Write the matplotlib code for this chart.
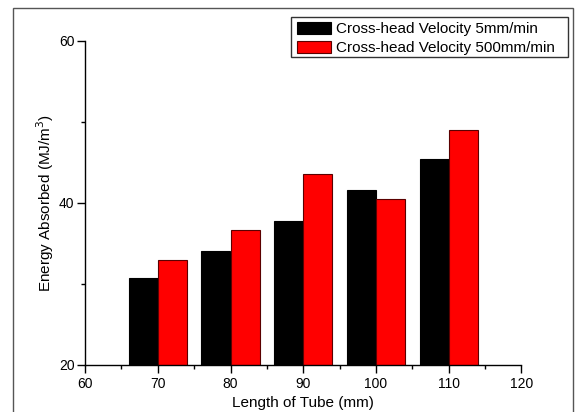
import numpy as np
import matplotlib
matplotlib.use("Agg")
import matplotlib.pyplot as plt
from matplotlib.patches import Rectangle
from matplotlib.ticker import MultipleLocator

plt.rcParams["font.family"] = ["Liberation Sans", "DejaVu Sans"]

# tube lengths (mm) and energy absorbed (MJ/m^3)
lengths = np.array([70, 80, 90, 100, 110])
energy_5 = [30.7, 34.1, 37.7, 41.6, 45.4]
energy_500 = [32.9, 36.7, 43.5, 40.5, 49.0]
series_labels = ["Cross-head Velocity 5mm/min", "Cross-head Velocity 500mm/min"]

bar_w = 4
W, H = 576, 412

fig = plt.figure(figsize=(5.76, 4.12), dpi=100)
ax = fig.add_axes([85 / W, 47 / H, 436.5 / W, 324.3 / H])

# grey frame around the whole picture (bottom is cut off in the original)
fig.patches.append(Rectangle((13 / W, -0.2), (573 - 13) / W, 1.2 - 7.7 / H,
                             transform=fig.transFigure, fill=False,
                             edgecolor="#555555", linewidth=1.0, clip_on=False))

ax.bar(lengths - bar_w / 2, energy_5, width=bar_w, color="black",
       edgecolor="black", linewidth=0.8, label=series_labels[0], zorder=2)
ax.bar(lengths + bar_w / 2, energy_500, width=bar_w, color="#ff0000",
       edgecolor="#5a0000", linewidth=0.8, label=series_labels[1], zorder=2)

ax.set_xlim(60, 120)
ax.set_ylim(20, 60)
ax.xaxis.set_major_locator(MultipleLocator(10))
ax.xaxis.set_minor_locator(MultipleLocator(5))
ax.yaxis.set_major_locator(MultipleLocator(20))
ax.yaxis.set_minor_locator(MultipleLocator(10))

for s in ["top", "right"]:
    ax.spines[s].set_visible(False)
for s in ["left", "bottom"]:
    ax.spines[s].set_linewidth(1.0)

ax.tick_params(which="major", direction="out", length=5.5, width=1.0, labelsize=10)
ax.tick_params(which="minor", direction="out", length=3, width=1.0)
ax.tick_params(axis="y", which="major", pad=2)

ax.set_xlabel("Length of Tube (mm)", fontsize=11, labelpad=3)
ax.set_ylabel("Energy Absorbed (MJ/m$^3$)", fontsize=11, labelpad=2)

# legend without its own frame; box drawn separately (uneven padding in original)
leg = ax.legend(loc="upper left", bbox_to_anchor=(296.7 / W, 1 - 22 / H),
                bbox_transform=fig.transFigure, fontsize=11, frameon=False,
                borderaxespad=0, borderpad=0, handlelength=2.22,
                handleheight=0.82, handletextpad=0.35, labelspacing=0.3)
ax.add_patch(Rectangle((291 / W, 1 - 56.7 / H), (567.7 - 291) / W, (56.7 - 17.3) / H,
                       transform=fig.transFigure, fill=True, facecolor="white",
                       edgecolor="#333333", linewidth=1.0, clip_on=False, zorder=4))

fig.savefig("out.png", dpi=100)
